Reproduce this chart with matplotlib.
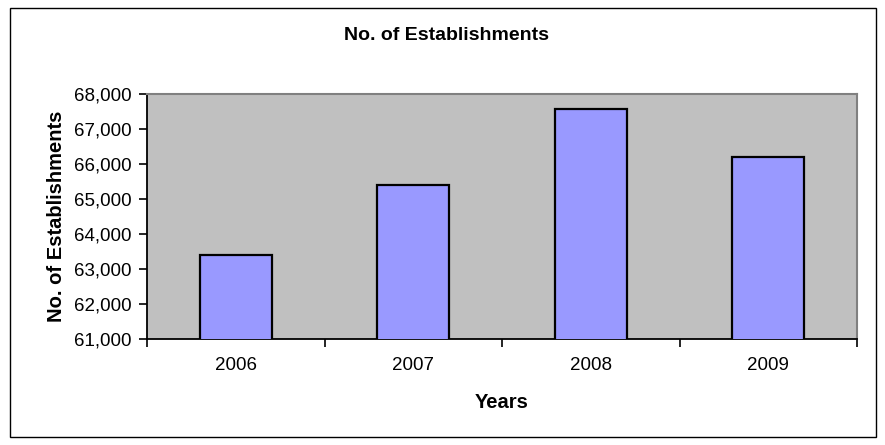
import matplotlib.pyplot as plt
from matplotlib.patches import Rectangle
from matplotlib.ticker import FuncFormatter, FixedLocator

years = ["2006", "2007", "2008", "2009"]
establishments = [63400, 65400, 67560, 66190]
y_ticks = [61000, 62000, 63000, 64000, 65000, 66000, 67000, 68000]

plt.rcParams["font.family"] = ["Liberation Sans", "DejaVu Sans"]

fig = plt.figure(figsize=(8.85, 4.45), dpi=100)

# outer chart frame
fig.patches.append(Rectangle((10 / 885, 8 / 445), 866 / 885, 429 / 445,
                             transform=fig.transFigure, fill=False,
                             edgecolor="black", linewidth=1.0))

ax = fig.add_axes([147 / 885, 1 - 339 / 445, 710 / 885, 245 / 445])
ax.set_facecolor("#C0C0C0")

x = list(range(len(years)))
ax.bar(x, establishments, width=0.405, bottom=0, color="#9999FF",
       edgecolor="black", linewidth=1.6, zorder=3)

ax.set_xlim(-0.5, len(years) - 0.5)
ax.set_ylim(61000, 68000)
ax.set_yticks(y_ticks)
ax.yaxis.set_major_formatter(FuncFormatter(lambda v, p: f"{int(v):,}"))
ax.set_xticks(x)
ax.set_xticklabels(years)
ax.xaxis.set_minor_locator(FixedLocator([i - 0.5 for i in range(len(years) + 1)]))
ax.tick_params(axis="x", which="major", length=0, pad=13, labelsize=13.5)
ax.tick_params(axis="x", which="minor", length=6, width=1.2, direction="out")
ax.tick_params(axis="y", length=6, width=1.2, direction="out", pad=5, labelsize=13.5)

for side in ["left", "bottom"]:
    ax.spines[side].set_color("black")
    ax.spines[side].set_linewidth(1.3)
for side in ["top", "right"]:
    ax.spines[side].set_color("#808080")
    ax.spines[side].set_linewidth(1.5)

ax.set_xlabel("Years", fontsize=14.5, fontweight="bold", labelpad=14)
ax.set_ylabel("No. of Establishments", fontsize=14.5, fontweight="bold", labelpad=6)
fig.text(447 / 885, 1 - 35 / 445, "No. of Establishments", ha="center", va="center",
         fontsize=14, fontweight="bold")

fig.savefig("out.png", dpi=100)
